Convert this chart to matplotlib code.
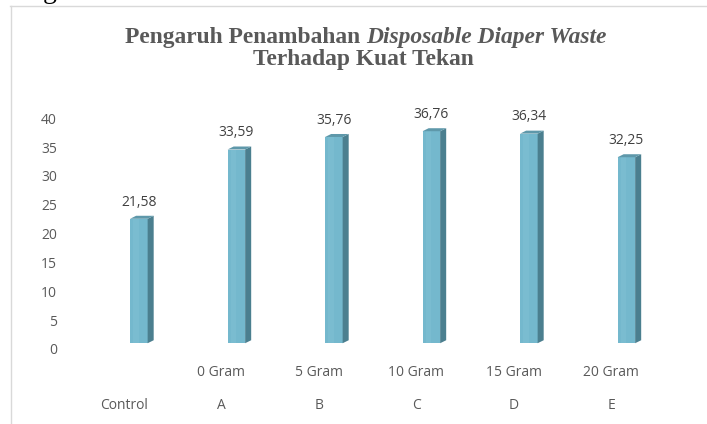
import matplotlib
matplotlib.use("Agg")
import matplotlib.pyplot as plt
from matplotlib.patches import Rectangle, Polygon
from matplotlib.lines import Line2D

# ---- data ----
groups = ["Control", "A", "B", "C", "D", "E"]
doses = ["", "0 Gram", "5 Gram", "10 Gram", "15 Gram", "20 Gram"]
values = [21.58, 33.59, 35.76, 36.76, 36.34, 32.25]
value_labels = ["21,58", "33,59", "35,76", "36,76", "36,34", "32,25"]
yticks = [0, 5, 10, 15, 20, 25, 30, 35, 40]
title_plain = "Pengaruh Penambahan "
title_italic = "Disposable Diaper Waste"
title_line2 = "Terhadap Kuat Tekan"

W, H = 707, 424
fig = plt.figure(figsize=(W / 100, H / 100), dpi=100)
fig.patch.set_facecolor("white")

def fx(px):
    return px / W

def fy(py):
    return 1 - py / H

FONT = "Open Sans"
FS = 10

# frame (partially cropped chart border)
fig.add_artist(Line2D([fx(10), 1.0], [fy(5.5), fy(5.5)], color="#d9d9d9", lw=1.0))
fig.add_artist(Line2D([fx(10.5), fx(10.5)], [fy(5.5), 0.0], color="#d9d9d9", lw=1.0))
# fragment of text above the chart
fig.text(fx(50), fy(-1.5), "g", family="Liberation Serif", fontsize=20,
         color="black", ha="center", va="baseline")

ax = fig.add_axes([fx(75), fy(349), fx(660) - fx(75), fy(118.3) - fy(349)])
ax.set_xlim(-0.5, len(groups) - 0.5)
ax.set_ylim(0, 40)
for s in ax.spines.values():
    s.set_visible(False)
ax.set_yticks(yticks)
ax.set_yticklabels([str(t) for t in yticks], family=FONT, fontsize=FS, color="#595959")
ax.tick_params(axis="y", length=0, pad=13)
ax.set_xticks([])

# pseudo-3D bars
front_c = "#74B8CD"
hi_c = "#80C0D4"
side_c = "#4B7F8F"
top_c = "#5E98AA"
x_off0, x_off1 = 0.065, 0.245
dx, dy = 0.062, 0.52
base = 1.0
for i, v in enumerate(values):
    x0, x1 = i + x_off0, i + x_off1
    t = v + base
    ax.add_patch(Rectangle((x0, base), x1 - x0, t - base, facecolor=front_c,
                           edgecolor="none", clip_on=False, zorder=3))
    ax.add_patch(Rectangle((x0 + 0.03, base), 0.06, t - base, facecolor=hi_c,
                           edgecolor="none", clip_on=False, zorder=3, alpha=0.5))
    ax.add_patch(Polygon([(x1, base), (x1 + dx, base + dy), (x1 + dx, t + dy), (x1, t)],
                         closed=True, facecolor=side_c, edgecolor="none",
                         clip_on=False, zorder=3))
    ax.add_patch(Polygon([(x0, t), (x0 + dx, t + dy), (x1 + dx, t + dy), (x1, t)],
                         closed=True, facecolor=top_c, edgecolor="none",
                         clip_on=False, zorder=3))
    ax.annotate(value_labels[i], xy=((x0 + x1) / 2, t), xytext=(0, 12),
                textcoords="offset points", ha="center", va="center",
                family=FONT, fontsize=FS, color="#404040", annotation_clip=False)

# two-row category labels
for i in range(len(groups)):
    ax.annotate(doses[i], xy=(i, 0), xycoords=("data", "axes fraction"),
                xytext=(0, -17), textcoords="offset points", ha="center", va="center",
                family=FONT, fontsize=FS, color="#595959", annotation_clip=False)
    ax.annotate(groups[i], xy=(i, 0), xycoords=("data", "axes fraction"),
                xytext=(0, -41), textcoords="offset points", ha="center", va="center",
                family=FONT, fontsize=FS, color="#595959", annotation_clip=False)

# title (bold + bold italic), fitted and centered
renderer = fig.canvas.get_renderer()
tcol = "#595959"
target_w = 482.0
fs0 = 16
t1 = fig.text(0, fy(43.3), title_plain, family="Liberation Serif", weight="bold",
              fontsize=fs0, color=tcol, ha="left", va="baseline")
t2 = fig.text(0, fy(43.3), title_italic, family="Liberation Serif", weight="bold",
              style="italic", fontsize=fs0, color=tcol, ha="left", va="baseline")
w1 = t1.get_window_extent(renderer).width
w2 = t2.get_window_extent(renderer).width
fs = fs0 * target_w / (w1 + w2)
t1.set_fontsize(fs)
t2.set_fontsize(fs)
w1 = t1.get_window_extent(renderer).width
w2 = t2.get_window_extent(renderer).width
start = 366 - (w1 + w2) / 2
t1.set_x(fx(start))
t2.set_x(fx(start + w1))
fig.text(fx(363), fy(65), title_line2, family="Liberation Serif", weight="bold",
         fontsize=fs, color=tcol, ha="center", va="baseline")

fig.savefig("out.png", dpi=100, facecolor="white")
